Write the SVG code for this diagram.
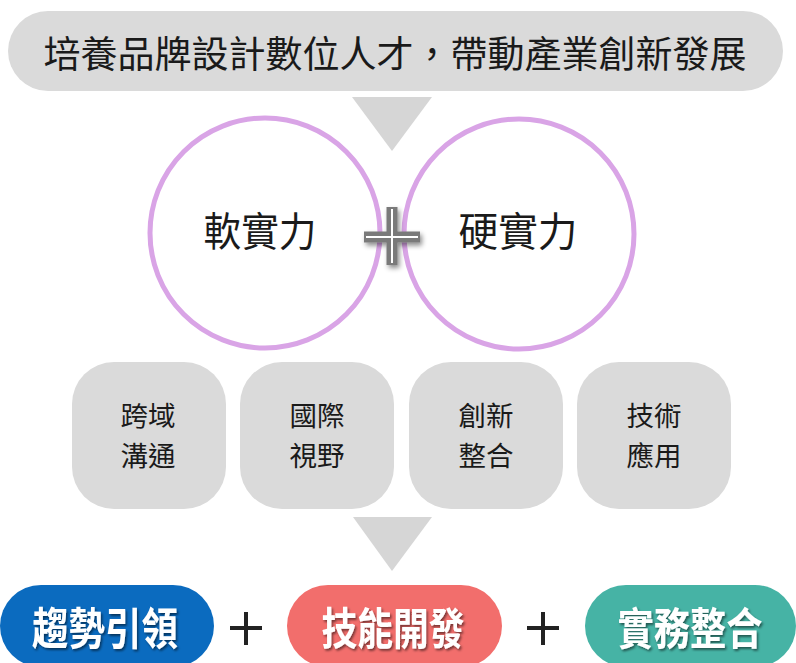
<svg xmlns="http://www.w3.org/2000/svg" width="796" height="663" viewBox="0 0 796 663">
<defs>
<style>
.t{font-family:"Noto Sans CJK TC","Noto Sans CJK SC",sans-serif;text-anchor:middle;fill:#1a1a1a}
.bt{font-size:27.5px}
.box{fill:#dadada}
.tri{fill:#d6d6d6}
.ring{fill:#fff;stroke:#d9a4e6;stroke-width:5}
.pill-t{font-family:"Noto Sans CJK TC","Noto Sans CJK SC",sans-serif;text-anchor:middle;fill:#fff;font-weight:bold;font-size:44px}
.op{stroke:#222;stroke-width:4;fill:none}
</style>
<filter id="sh" x="-30%" y="-30%" width="160%" height="160%">
<feDropShadow dx="2" dy="3" stdDeviation="2.5" flood-color="#000" flood-opacity="0.45"/>
</filter>
<filter id="tsh" x="-10%" y="-10%" width="120%" height="130%">
<feDropShadow dx="1.5" dy="2" stdDeviation="1.2" flood-color="#000" flood-opacity="0.5"/>
</filter>
</defs>
<rect width="796" height="663" fill="#fff"/>

<g id="goal">
<rect class="box" x="8" y="11" width="775" height="80" rx="40"/>
<text class="t" x="395" y="68" font-size="37">培養品牌設計數位人才，帶動產業創新發展</text>
</g>

<g id="connectors">
<polygon class="tri" points="352,97 432,97 392,151"/>
<polygon class="tri" points="353,517 432,517 392,571"/>
</g>

<g id="soft">
<circle class="ring" cx="265" cy="233" r="115"/>
<text class="t" x="260" y="246" font-size="40" textLength="113" lengthAdjust="spacingAndGlyphs">軟實力</text>
</g>
<g id="hard">
<circle class="ring" cx="519" cy="234" r="115"/>
<text class="t" x="518" y="246" font-size="40" textLength="119" lengthAdjust="spacingAndGlyphs">硬實力</text>
</g>
<g id="plus-center" filter="url(#sh)">
<path d="M364,237 H420 M392,207 V265" stroke="#7a7a7a" stroke-width="11" fill="none"/>
<path d="M366,237 H418 M392,209 V263" stroke="#fff" stroke-width="2" fill="none"/>
</g>

<g id="box1">
<rect class="box" x="72" y="362" width="154" height="147" rx="42"/>
<text class="t bt" x="148" y="425.5">跨域</text>
<text class="t bt" x="148" y="465.5">溝通</text>
</g>
<g id="box2">
<rect class="box" x="240" y="362" width="154" height="147" rx="42"/>
<text class="t bt" x="317" y="425.5">國際</text>
<text class="t bt" x="317" y="465.5">視野</text>
</g>
<g id="box3">
<rect class="box" x="409" y="362" width="154" height="147" rx="42"/>
<text class="t bt" x="486" y="425.5">創新</text>
<text class="t bt" x="486" y="465.5">整合</text>
</g>
<g id="box4">
<rect class="box" x="577" y="362" width="154" height="147" rx="42"/>
<text class="t bt" x="654" y="425.5">技術</text>
<text class="t bt" x="654" y="465.5">應用</text>
</g>

<g id="trend">
<rect x="0" y="585" width="214" height="82" rx="41" fill="#0b6bbf"/>
<text class="pill-t" x="105" y="645" textLength="146" lengthAdjust="spacingAndGlyphs" filter="url(#tsh)">趨勢引領</text>
</g>
<g id="op1"><path class="op" d="M230,628 H262 M246,612 V645"/></g>
<g id="skill">
<rect x="287" y="585" width="215" height="82" rx="41" fill="#f26e6c"/>
<text class="pill-t" x="393" y="645" textLength="143" lengthAdjust="spacingAndGlyphs" filter="url(#tsh)">技能開發</text>
</g>
<g id="op2"><path class="op" d="M527,628 H559 M543,612 V645"/></g>
<g id="practice">
<rect x="585" y="585" width="211" height="82" rx="41" fill="#46b3a5"/>
<text class="pill-t" x="690" y="645" textLength="145" lengthAdjust="spacingAndGlyphs" filter="url(#tsh)">實務整合</text>
</g>
</svg>
